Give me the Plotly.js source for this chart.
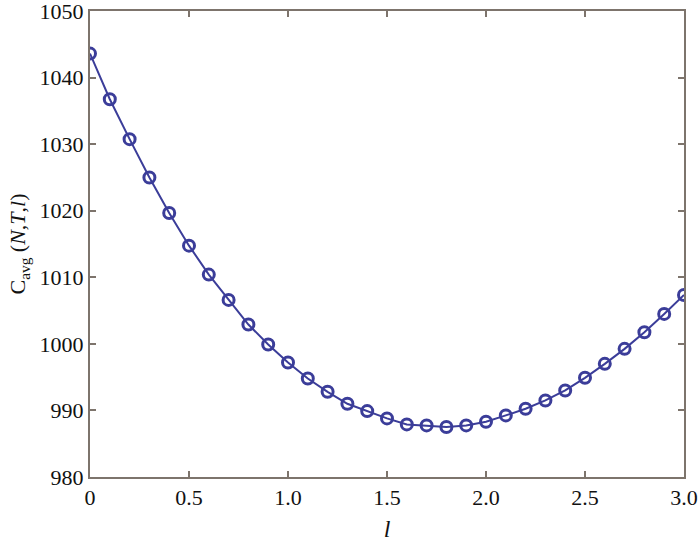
<!DOCTYPE html>
<html>
<head>
<meta charset="utf-8">
<script src="https://cdn.plot.ly/plotly-3.0.1.min.js"></script>
<style>
  body { margin: 0; background: #fff; }
  #chart { width: 700px; height: 542px; }
</style>
</head>
<body>
<div id="chart"></div>
<script>
var lValues = [0, 0.1, 0.2, 0.3, 0.4, 0.5, 0.6, 0.7, 0.8, 0.9, 1.0,
               1.1, 1.2, 1.3, 1.4, 1.5, 1.6, 1.7, 1.8, 1.9, 2.0,
               2.1, 2.2, 2.3, 2.4, 2.5, 2.6, 2.7, 2.8, 2.9, 3.0];
var costAvg = [1043.6, 1036.75, 1030.75, 1025.0, 1019.65, 1014.75, 1010.4, 1006.6, 1002.9, 999.9, 997.2,
               994.8, 992.8, 991.0, 989.9, 988.8, 987.9, 987.75, 987.5, 987.75, 988.3,
               989.25, 990.25, 991.5, 993.0, 994.9, 997.0, 999.25, 1001.75, 1004.5, 1007.35];

var xTickVals = [0, 0.5, 1.0, 1.5, 2.0, 2.5, 3.0];
var xTickText = ['0', '0.5', '1.0', '1.5', '2.0', '2.5', '3.0'];
var yTickVals = [980, 990, 1000, 1010, 1020, 1030, 1040, 1050];

var axisColor = '#7d746c';
var serif = '"Liberation Serif", "Times New Roman", serif';

var data = [
    {
        x: lValues,
        y: costAvg,
        type: 'scatter',
        mode: 'lines+markers',
        line: { color: '#3b3d99', width: 2 },
        marker: {
            symbol: 'circle-open',
            size: 11,
            color: '#3b3d99',
            line: { width: 3, color: '#3b3d99' }
        },
        showlegend: false
    }
];

var layout = {
    width: 700,
    height: 542,
    margin: { l: 90, r: 16, t: 11, b: 65 },
    paper_bgcolor: '#fff',
    plot_bgcolor: '#fff',
    font: { family: serif, size: 22, color: '#111' },
    xaxis: {
        range: [0, 3.0],
        tickvals: xTickVals,
        ticktext: xTickText,
        ticks: 'inside',
        ticklen: 6,
        tickwidth: 2,
        tickcolor: axisColor,
        showline: true,
        linecolor: axisColor,
        linewidth: 2,
        mirror: 'ticks',
        showgrid: false,
        zeroline: false,
        ticklabeloverflow: 'allow',
        tickfont: { family: serif, size: 22, color: '#111' },
        title: { text: '<i>l</i>', font: { family: serif, size: 24, color: '#111' }, standoff: 20 }
    },
    yaxis: {
        range: [980, 1050],
        tickvals: yTickVals,
        ticks: 'inside',
        ticklen: 6,
        tickwidth: 2,
        tickcolor: axisColor,
        showline: true,
        linecolor: axisColor,
        linewidth: 2,
        mirror: 'ticks',
        showgrid: false,
        zeroline: false,
        ticklabeloverflow: 'allow',
        tickfont: { family: serif, size: 22, color: '#111' },
        title: {
            text: 'C<sub>avg</sub> (<i>N</i>,<i>T</i>,<i>l</i>)',
            font: { family: serif, size: 22, color: '#111' },
            standoff: 8
        }
    }
};

Plotly.newPlot('chart', data, layout, { displayModeBar: false, staticPlot: true });
</script>
</body>
</html>
